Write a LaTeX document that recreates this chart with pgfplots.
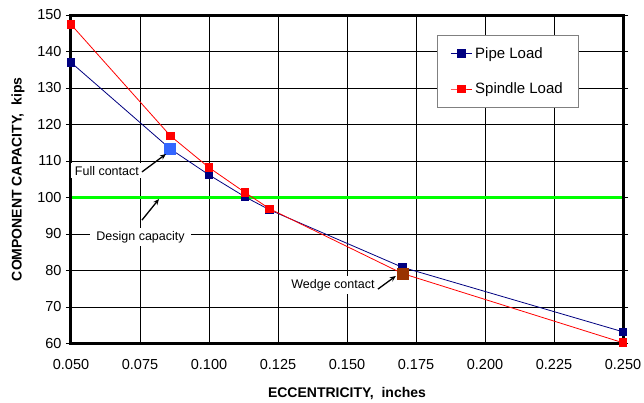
\documentclass[border=0pt]{standalone}
\usepackage{pgfplots}
\pgfplotsset{compat=1.18}
\usepackage{fontspec}
\setmainfont{Liberation Sans}
\usetikzlibrary{arrows.meta}
\definecolor{navy}{RGB}{0,0,128}
\definecolor{pred}{RGB}{255,0,0}
\definecolor{lgreen}{RGB}{0,255,0}
\definecolor{lblue}{RGB}{51,102,255}
\definecolor{brown2}{RGB}{153,51,0}
\begin{document}
\begin{tikzpicture}[x=1pt,y=1pt]
\begin{axis}[
  scale only axis,
  width=552pt, height=328.5pt,
  xmin=0.05, xmax=0.25, ymin=60, ymax=150,
  xtick={0.05,0.075,0.1,0.125,0.15,0.175,0.2,0.225,0.25},
  xticklabels={0.050,0.075,0.100,0.125,0.150,0.175,0.200,0.225,0.250},
  ytick={60,70,80,90,100,110,120,130,140,150},
  yticklabels={60,70,80,90,100,110,120,130,140,150},
  grid=major,
  major grid style={black, line width=0.8pt},
  axis line style={black, line width=3pt},
  xtick style={draw=none},
  ytick style={black, line width=0.8pt},
  tick align=outside,
  major tick length=5pt,
  tick label style={font=\fontsize{14.5}{17}\selectfont},
  xticklabel style={yshift=-7pt},
  yticklabel style={xshift=-1pt},
  xlabel={\textbf{ECCENTRICITY,\ \ inches}},
  ylabel={\textbf{COMPONENT CAPACITY,\ \ kips}},
  label style={font=\fontsize{14}{16}\selectfont},
  xlabel style={yshift=-11pt},
  ylabel style={yshift=6pt},
  clip=false,
  legend style={at={(0.663,0.939)}, anchor=north west, draw=gray, fill=white,
    font=\fontsize{15}{17}\selectfont, row sep=19pt, inner xsep=13pt, inner ysep=10pt, line width=0.8pt,
    nodes={inner xsep=3pt}},
  legend image code/.code={\draw[mark repeat=2,mark phase=2] plot coordinates {(0pt,0pt) (10.5pt,0pt) (21pt,0pt)};},
  legend cell align=left,
]
\addplot[lgreen, line width=3.5pt, forget plot] coordinates {(0.05,100) (0.25,100)};
\addplot[navy, line width=0.8pt, mark=square*, mark size=3.8pt, mark options={fill=navy, draw=navy, line width=0pt}]
  coordinates {(0.05,137.0) (0.086,113.3) (0.1,106.2) (0.113,100.2) (0.122,96.6) (0.17,80.9) (0.25,63.2)};
\addlegendentry{Pipe Load}
\addplot[pred, line width=0.8pt, mark=square*, mark size=3.8pt, mark options={fill=pred, draw=pred, line width=0pt}]
  coordinates {(0.05,147.4) (0.086,116.9) (0.1,108.2) (0.113,101.4) (0.122,96.9) (0.17,79.2) (0.25,60.2)};
\addlegendentry{Spindle Load}
\addplot[only marks, mark=square*, mark size=5.5pt, lblue, mark options={fill=lblue, draw=lblue, line width=0pt}, forget plot]
  coordinates {(0.086,113.3)};
\addplot[only marks, mark=square*, mark size=5.5pt, brown2, mark options={fill=brown2, draw=brown2, line width=0pt}, forget plot]
  coordinates {(0.1703,79.0)};
\draw[black, line width=3pt] (rel axis cs:0,0) rectangle (rel axis cs:1,1);
\coordinate (fct) at (axis cs:0.0630,107.3);
\coordinate (fca) at (axis cs:0.0757,107.0);
\coordinate (fcb) at (axis cs:0.0844,111.9);
\coordinate (dct) at (axis cs:0.0752,89.2);
\coordinate (dca) at (axis cs:0.0757,93.8);
\coordinate (dcb) at (axis cs:0.0819,99.6);
\coordinate (wct) at (axis cs:0.1449,76.0);
\coordinate (wca) at (axis cs:0.1612,74.9);
\coordinate (wcb) at (axis cs:0.1677,78.5);
\end{axis}
\node[fill=white, inner xsep=4pt, inner ysep=3pt, font=\fontsize{12.5}{14}\selectfont] at (fct) {Full contact};
\node[fill=white, inner xsep=6pt, inner ysep=3pt, font=\fontsize{12.5}{14}\selectfont] at (dct) {Design capacity};
\node[fill=white, inner xsep=4pt, inner ysep=3pt, font=\fontsize{12.5}{14}\selectfont] at (wct) {Wedge contact};
\draw[black, line width=1.3pt, -{Stealth[length=6pt,width=5pt]}] (fca) -- (fcb);
\draw[black, line width=1.3pt, -{Stealth[length=6pt,width=5pt]}] (dca) -- (dcb);
\draw[black, line width=1.3pt, -{Stealth[length=6pt,width=5pt]}] (wca) -- (wcb);
\pgfresetboundingbox
\path[use as bounding box] (-71pt,-59.5pt) rectangle (573pt,343.5pt);
\end{tikzpicture}
\end{document}
